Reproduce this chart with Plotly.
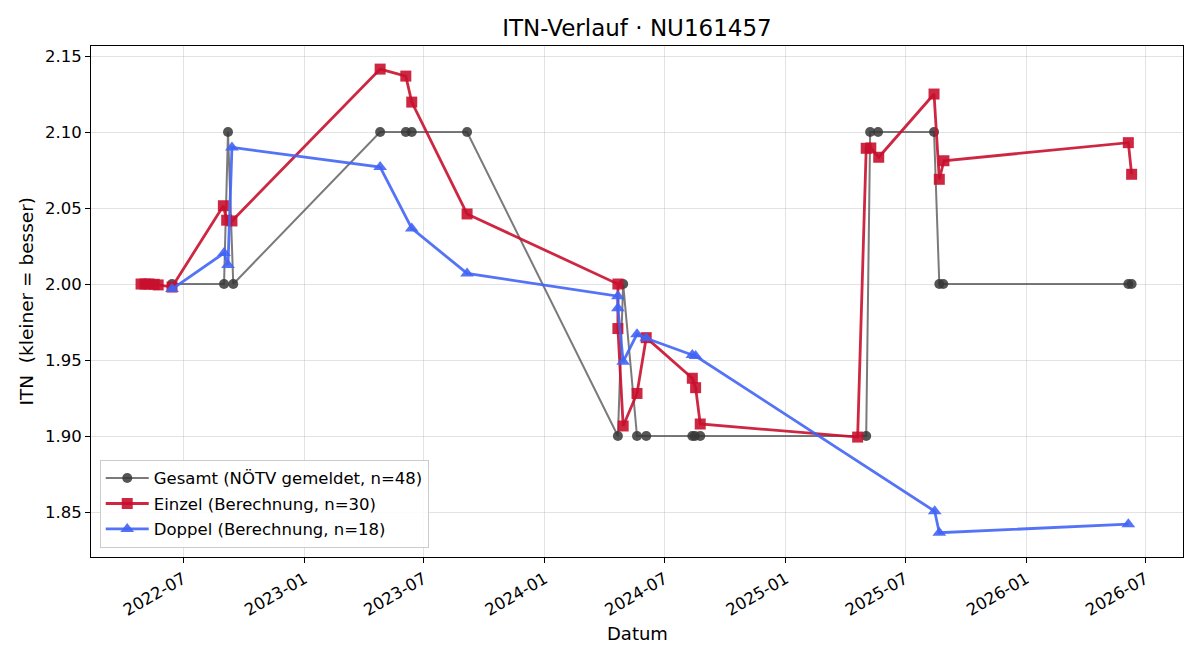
import plotly.graph_objects as go

# ---------------- data ----------------
gesamt_dates = ["2022-06-14", "2022-09-01", "2022-09-07", "2022-09-15", "2023-04-26",
                "2023-06-04", "2023-06-13", "2023-09-05", "2024-04-21", "2024-04-29",
                "2024-05-20", "2024-06-03", "2024-08-12", "2024-08-16", "2024-08-24",
                "2025-05-03", "2025-05-09", "2025-05-21", "2025-08-14", "2025-08-22",
                "2025-08-28", "2026-06-05", "2026-06-10"]
gesamt_vals = [2.00, 2.00, 2.10, 2.00, 2.10,
               2.10, 2.10, 2.10, 1.90, 2.00,
               1.90, 1.90, 1.90, 1.90, 1.90,
               1.90, 2.10, 2.10, 2.10, 2.00,
               2.00, 2.00, 2.00]

einzel_dates = ["2022-04-28", "2022-05-04", "2022-05-10", "2022-05-18", "2022-05-24",
                "2022-06-14", "2022-08-31", "2022-09-05", "2022-09-13", "2023-04-26",
                "2023-06-04", "2023-06-13", "2023-09-05", "2024-04-21", "2024-04-21",
                "2024-04-29", "2024-05-20", "2024-06-03", "2024-08-12", "2024-08-17",
                "2024-08-24", "2025-04-20", "2025-05-03", "2025-05-10", "2025-05-22",
                "2025-08-14", "2025-08-22", "2025-08-29", "2026-06-05", "2026-06-10"]
einzel_vals = [2.000, 2.000, 2.000, 1.9998, 1.9994,
               1.998, 2.0515, 2.042, 2.0415, 2.1414,
               2.1368, 2.1197, 2.0461, 2.000, 1.9707,
               1.9066, 1.928, 1.9647, 1.938, 1.9318,
               1.9079, 1.8993, 2.0893, 2.0895, 2.0834,
               2.1250, 2.0689, 2.0811, 2.0930, 2.0722]

doppel_dates = ["2022-06-14", "2022-09-01", "2022-09-07", "2022-09-13", "2023-04-26",
                "2023-06-13", "2023-09-05", "2024-04-21", "2024-04-21", "2024-04-29",
                "2024-05-20", "2024-06-03", "2024-08-12", "2024-08-17", "2025-08-15",
                "2025-08-22", "2026-06-05"]
doppel_vals = [1.9967, 2.0204, 2.0125, 2.0899, 2.0770,
               2.0366, 2.0070, 1.9920, 1.9840, 1.9489,
               1.9670, 1.9643, 1.9533, 1.9526, 1.8505,
               1.8364, 1.8420]

x_tickvals = ["2022-07-01", "2023-01-01", "2023-07-01", "2024-01-01", "2024-07-01",
              "2025-01-01", "2025-07-01", "2026-01-01", "2026-07-01"]
x_ticktext = ["2022-07", "2023-01", "2023-07", "2024-01", "2024-07",
              "2025-01", "2025-07", "2026-01", "2026-07"]
y_tickvals = [1.85, 1.90, 1.95, 2.00, 2.05, 2.10, 2.15]

FONT = "DejaVu Sans, Liberation Sans, sans-serif"

fig = go.Figure()
fig.add_trace(go.Scatter(
    x=gesamt_dates, y=gesamt_vals, mode="lines+markers",
    name="Gesamt (NÖTV gemeldet, n=48)", legendgroup="g",
    line=dict(color="rgba(70,70,70,0.72)", width=2),
    marker=dict(symbol="circle", size=10, color="rgba(55,55,55,0.85)",
                line=dict(width=0)),
))
fig.add_trace(go.Scatter(
    x=einzel_dates, y=einzel_vals, mode="lines+markers",
    name="Einzel (Berechnung, n=30)", legendgroup="e",
    line=dict(color="rgba(200,16,46,0.9)", width=2.8),
    marker=dict(symbol="square", size=11, color="rgba(200,16,46,0.9)",
                line=dict(width=0)),
))
fig.add_trace(go.Scatter(
    x=doppel_dates, y=doppel_vals, mode="lines+markers",
    name="Doppel (Berechnung, n=18)", legendgroup="d",
    line=dict(color="rgba(65,100,245,0.9)", width=2.8),
    marker=dict(symbol="triangle-up", size=12, color="rgba(65,100,245,0.9)",
                line=dict(width=0)),
))

axis_common = dict(
    showline=True, linecolor="black", linewidth=1, mirror=True,
    ticks="outside", ticklen=5, tickwidth=1, tickcolor="black",
    showgrid=True, gridcolor="rgba(176,176,176,0.35)", gridwidth=1,
    zeroline=False,
    tickfont=dict(family=FONT, size=16.5, color="black"),
)

fig.update_layout(
    width=1200, height=660,
    margin=dict(l=91, r=17, t=46, b=103, autoexpand=False),
    paper_bgcolor="white", plot_bgcolor="white",
    font=dict(family=FONT, color="black"),
    title=dict(text="ITN-Verlauf · NU161457", x=0.5, xref="paper",
               y=1 - 28 / 660, yref="container", xanchor="center", yanchor="middle",
               font=dict(family=FONT, size=23, color="black")),
    xaxis=dict(axis_common, type="date",
               range=["2022-02-11", "2026-08-27"],
               tickvals=x_tickvals, ticktext=x_ticktext, tickangle=-30),
    yaxis=dict(axis_common, range=[1.8204, 2.1566],
               tickvals=y_tickvals, tickformat=".2f"),
    legend=dict(x=0.008, y=0.018, xanchor="left", yanchor="bottom",
                bgcolor="rgba(255,255,255,0.85)", bordercolor="#cccccc", borderwidth=1,
                font=dict(family=FONT, size=16.5, color="black"),
                itemwidth=43, tracegroupgap=1),
    showlegend=True,
    annotations=[
        dict(text="Datum", xref="paper", yref="paper", x=0.5, y=-76 / 511,
             xanchor="center", yanchor="middle", showarrow=False,
             font=dict(family=FONT, size=18, color="black")),
        dict(text="ITN  (kleiner = besser)", xref="paper", yref="paper",
             x=-65 / 1092, y=0.5, xanchor="center", yanchor="middle",
             textangle=-90, showarrow=False,
             font=dict(family=FONT, size=18.5, color="black")),
    ],
)

fig.write_html("out.html")
